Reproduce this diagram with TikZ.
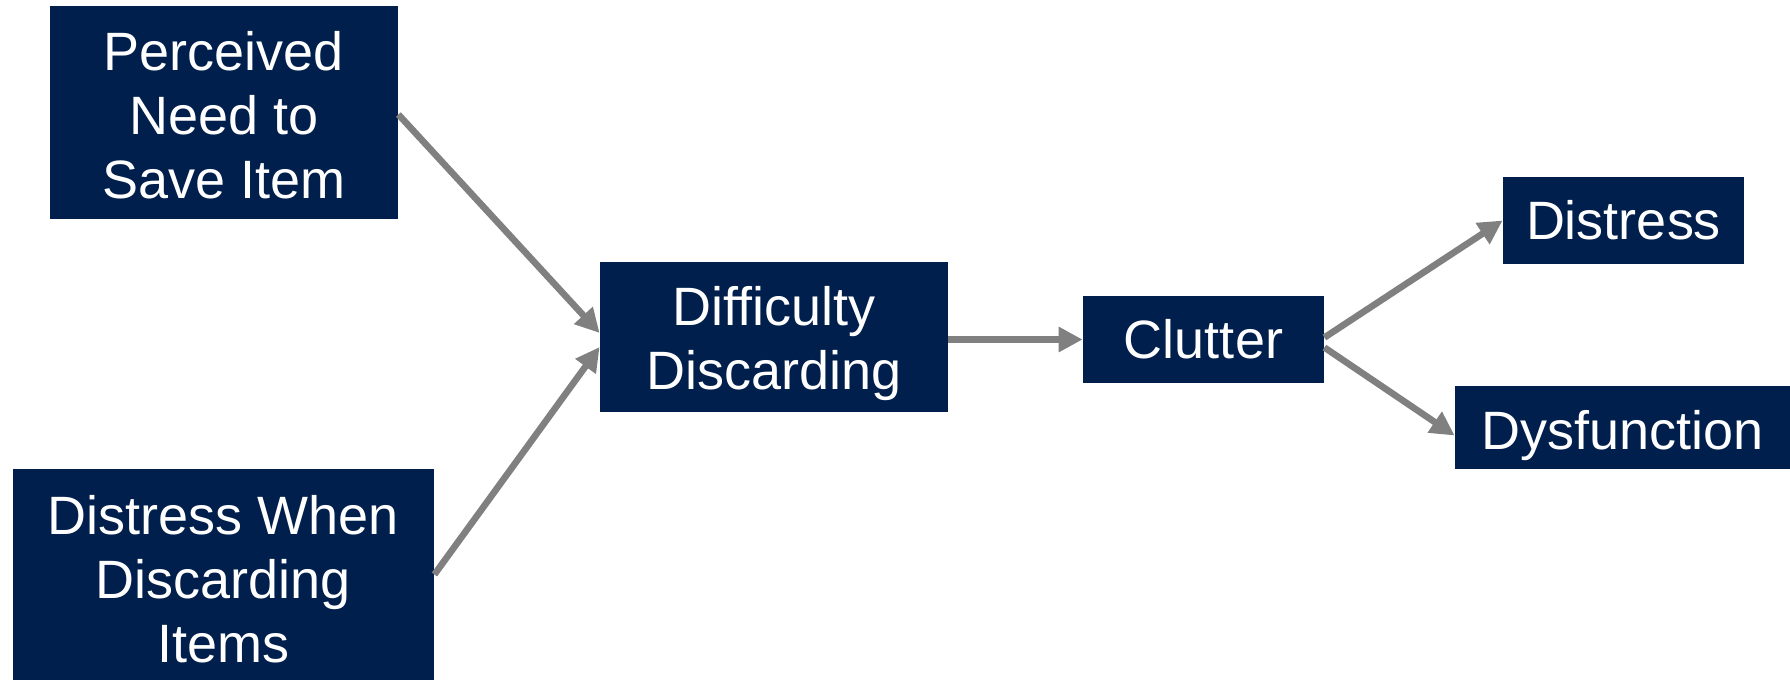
\documentclass[tikz,border=0pt]{standalone}
\usepackage{fontspec}
\setmainfont{Liberation Sans}
\usetikzlibrary{arrows.meta}
\definecolor{navy}{RGB}{0,31,76}
\definecolor{arrowgray}{RGB}{128,128,128}
\tikzset{
  box/.style={fill=navy, inner sep=0pt},
  caption/.style={text=white, inner sep=0pt, align=center,
    font=\fontsize{27}{32}\selectfont},
  link/.style={draw=arrowgray, line width=3.3pt,
    -{Triangle[length=12pt, width=12pt]}}
}
\begin{document}
\begin{tikzpicture}[x=0.5pt, y=-0.5pt]
  \useasboundingbox (0,0) rectangle (1790,680);
  % source factors
  \node[box, minimum width=174pt, minimum height=106.5pt] (need) at (224,112.5) {};
  \node[caption, yshift=-1.2pt] at (need) {Perceived\\Need to\\Save Item};
  \node[box, minimum width=210.5pt, minimum height=105.5pt] (pain) at (223.5,574.5) {};
  \node[caption, yshift=-2.3pt] at (pain) {Distress When\\Discarding\\Items};
  % core problem and its consequences
  \node[box, minimum width=174pt, minimum height=75pt] (diff) at (774,337) {};
  \node[caption, yshift=-3.3pt] at (diff) {Difficulty\\Discarding};
  \node[box, minimum width=120.5pt, minimum height=43.5pt] (clutter) at (1203.5,339.5) {};
  \node[caption] at (clutter) {Clutter};
  \node[box, minimum width=120.5pt, minimum height=43.5pt] (distress) at (1623.5,220.5) {};
  \node[caption] at (distress) {Distress};
  \node[box, minimum width=167.5pt, minimum height=41.5pt] (dysf) at (1622.5,427.5) {};
  \node[caption, yshift=-4pt] at (dysf) {Dysfunction};
  % causal links
  \draw[link] ([yshift=-1pt]need.east) -- ([yshift=2pt]diff.west);
  \draw[link] (pain.east) -- ([yshift=-5pt]diff.west);
  \draw[link] (diff.east |- clutter.west) -- (clutter.west);
  \draw[link] ([yshift=1pt]clutter.east) -- (distress.west);
  \draw[link] ([yshift=-4pt]clutter.east) -- ([yshift=-4pt]dysf.west);
\end{tikzpicture}
\end{document}
